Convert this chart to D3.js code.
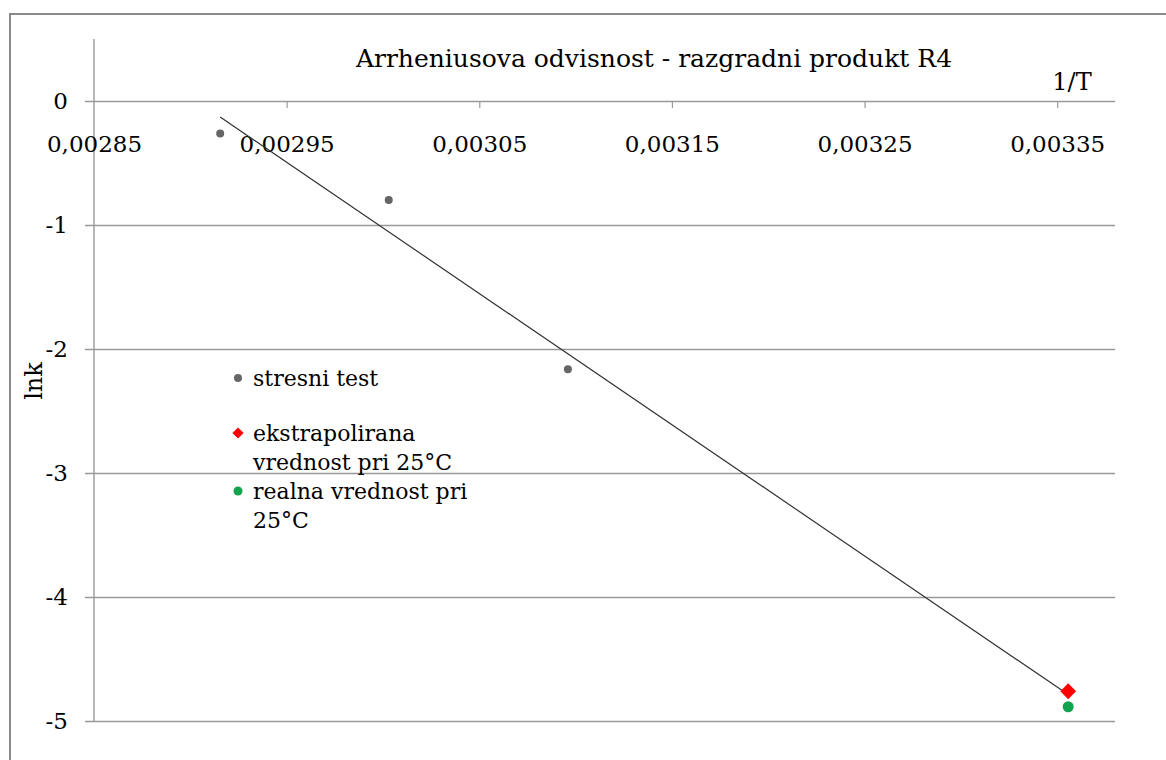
<!DOCTYPE html>
<html><head><meta charset="utf-8">
<script src="https://cdn.jsdelivr.net/npm/d3@7"></script>
<style>body{margin:0;background:#fff}svg{display:block}</style>
</head><body>
<svg id="c" width="1166" height="760"></svg>
<script>
// data (x = 1/T, y = ln k)
const stressX = [0.0029155, 0.0030030, 0.0030960];
const stressY = [-0.262, -0.798, -2.164];
const extrapX = [0.0033557];
const extrapY = [-4.760];
const realX = [0.0033557];
const realY = [-4.885];
const xTicks = [0.00285, 0.00295, 0.00305, 0.00315, 0.00325, 0.00335];
const yTicks = [0, -1, -2, -3, -4, -5];
const legendLabels = [["stresni test"], ["ekstrapolirana", "vrednost pri 25°C"], ["realna vrednost pri", "25°C"]];
const titleText = "Arrheniusova odvisnost - razgradni produkt R4";

const FONT = "'DejaVu Serif', 'Liberation Serif', serif";
const svg = d3.select("#c");
const x = d3.scaleLinear().domain([0.00285, 0.00338]).range([94, 1115]);
const y = d3.scaleLinear().domain([-5, 0.5]).range([721, 39]);

// outer frame
svg.append("rect").attr("x", 10).attr("y", 14).attr("width", 1170).attr("height", 760)
  .attr("fill", "none").attr("stroke", "#8a8a8a").attr("stroke-width", 2);

// horizontal gridlines + y labels
const yAxis = d3.axisLeft(y).tickValues(yTicks).tickSize(-(1115 - 85)).tickFormat(d => String(d));
const gy = svg.append("g").attr("transform", "translate(85,0)").call(yAxis);
gy.select(".domain").remove();
gy.selectAll(".tick line").attr("stroke", "#999").attr("stroke-width", 1.6).attr("x1", 0).attr("x2", 1115 - 85);
gy.selectAll(".tick text").attr("x", -17).attr("font-family", FONT).attr("font-size", 23).attr("fill", "#000");

// y axis line
svg.append("line").attr("x1", x(0.00285)).attr("x2", x(0.00285)).attr("y1", y(0.5)).attr("y2", y(-5))
  .attr("stroke", "#999").attr("stroke-width", 1.4);

// x axis along y=0
const xAxis = d3.axisBottom(x).tickValues(xTicks).tickSize(7).tickFormat(d => d3.format(".5f")(d).replace(".", ","));
const gx = svg.append("g").attr("transform", `translate(0,${y(0)})`).call(xAxis);
gx.select(".domain").remove();
gx.selectAll(".tick line").attr("stroke", "#999").attr("stroke-width", 1.2);
gx.selectAll(".tick").filter(d => d === 0.00285).select("line").remove();
gx.selectAll(".tick text").attr("y", 0).attr("dy", 0).attr("transform", "translate(0,51)")
  .attr("font-family", FONT).attr("font-size", 23).attr("fill", "#000");

// trendline: least-squares fit of stress-test points, extended to 25 °C
const mx = d3.mean(stressX), my = d3.mean(stressY);
const sxy = d3.sum(stressX.map((v, i) => (v - mx) * (stressY[i] - my)));
const sxx = d3.sum(stressX.map(v => (v - mx) * (v - mx)));
const slope = sxy / sxx, icpt = my - slope * mx;
const tx = [stressX[0], extrapX[0]];
svg.append("path").datum(tx)
  .attr("d", d3.line().x(d => x(d)).y(d => y(icpt + slope * d)))
  .attr("stroke", "#333").attr("stroke-width", 1.2).attr("fill", "none");

// points
svg.selectAll(".s").data(stressX).join("circle")
  .attr("cx", d => x(d)).attr("cy", (d, i) => y(stressY[i])).attr("r", 4).attr("fill", "#666");
svg.selectAll(".e").data(extrapX).join("path")
  .attr("transform", (d, i) => `translate(${x(d)},${y(extrapY[i])})`)
  .attr("d", d3.symbol(d3.symbolDiamond2, 160)).attr("fill", "#ff0000");
svg.selectAll(".r").data(realX).join("circle")
  .attr("cx", d => x(d)).attr("cy", (d, i) => y(realY[i])).attr("r", 5.5).attr("fill", "#13a34f");

// title and axis titles
svg.append("text").attr("x", 654).attr("y", 67).attr("text-anchor", "middle")
  .attr("font-family", FONT).attr("font-size", 25).text(titleText);
svg.append("text").attr("x", 1072).attr("y", 90).attr("text-anchor", "middle")
  .attr("font-family", FONT).attr("font-size", 24).text("1/T");
svg.append("text").attr("transform", "translate(42,381) rotate(-90)").attr("text-anchor", "middle")
  .attr("font-family", FONT).attr("font-size", 24).text("lnk");

// legend
const legY = [378, 433, 491];
const lg = svg.append("g");
lg.append("circle").attr("cx", 238).attr("cy", legY[0]).attr("r", 4).attr("fill", "#666");
lg.append("path").attr("transform", `translate(238,${legY[1]})`).attr("d", d3.symbol(d3.symbolDiamond2, 80)).attr("fill", "#ff0000");
lg.append("circle").attr("cx", 238).attr("cy", legY[2]).attr("r", 4.5).attr("fill", "#13a34f");
legendLabels.forEach((lines, i) => {
  lines.forEach((t, j) => {
    lg.append("text").attr("x", 253).attr("y", legY[i] + 8 + j * 29)
      .attr("font-family", FONT).attr("font-size", 22).text(t);
  });
});
</script>
</body></html>
